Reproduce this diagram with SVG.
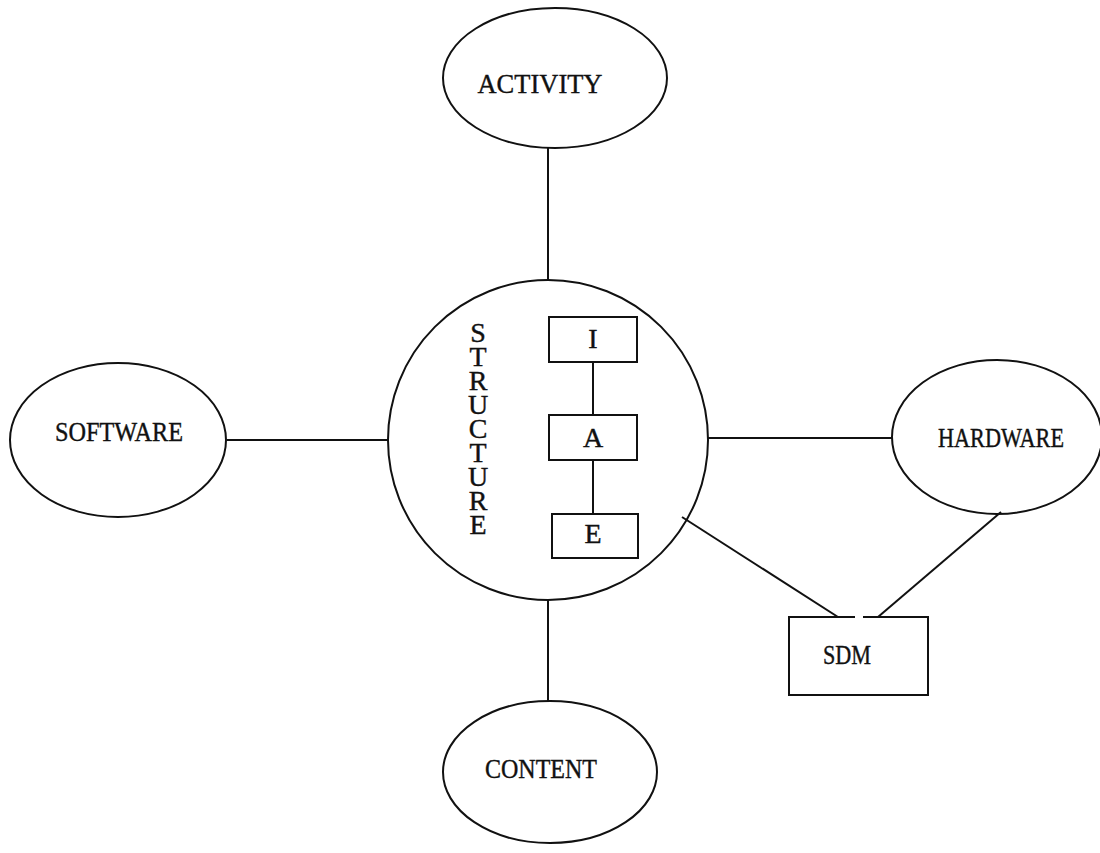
<svg xmlns="http://www.w3.org/2000/svg" width="1100" height="853" viewBox="0 0 1100 853">
  <style>
    .shape { fill: none; stroke: #111; stroke-width: 2; }
    .link { stroke: #111; stroke-width: 2; fill: none; }
    .label { font-family: "Liberation Serif", "Times New Roman", serif; font-size: 28px; fill: #111; stroke: #111; stroke-width: 0.4; text-anchor: middle; }
    .vertical { writing-mode: vertical-rl; text-orientation: upright; letter-spacing: -7px; text-anchor: start; }
  </style>
  <rect width="1100" height="853" fill="#fff"/>

  <!-- connectors -->
  <g id="connectors">
    <line class="link" x1="548" y1="148" x2="548" y2="280"/>
    <line class="link" x1="227" y1="440" x2="388" y2="440"/>
    <line class="link" x1="708" y1="438" x2="892" y2="438"/>
    <line class="link" x1="548" y1="600" x2="548" y2="701"/>
    <line class="link" x1="682" y1="517" x2="838" y2="617"/>
    <line class="link" x1="1001" y1="512" x2="878" y2="617"/>
    <line class="link" x1="593" y1="362" x2="593" y2="415"/>
    <line class="link" x1="593" y1="460" x2="593" y2="514"/>
  </g>

  <g id="activity">
    <ellipse class="shape" cx="555" cy="78" rx="112" ry="70"/>
    <text class="label" x="540" y="93" textLength="125" lengthAdjust="spacingAndGlyphs">ACTIVITY</text>
  </g>

  <g id="software">
    <ellipse class="shape" cx="118" cy="440" rx="108" ry="77"/>
    <text class="label" x="119" y="441" textLength="128" lengthAdjust="spacingAndGlyphs">SOFTWARE</text>
  </g>

  <g id="hardware">
    <ellipse class="shape" cx="997" cy="437" rx="105" ry="77"/>
    <text class="label" x="1001" y="447" textLength="126" lengthAdjust="spacingAndGlyphs">HARDWARE</text>
  </g>

  <g id="content">
    <ellipse class="shape" cx="550" cy="772" rx="107" ry="71"/>
    <text class="label" x="541" y="778" textLength="112" lengthAdjust="spacingAndGlyphs">CONTENT</text>
  </g>

  <g id="structure">
    <circle class="shape" cx="548" cy="440" r="160"/>
    <text class="label vertical" x="478" y="317">STRUCTURE</text>
  </g>

  <g id="box-i">
    <rect class="shape" x="549" y="317" width="88" height="45"/>
    <text class="label" x="593" y="348">I</text>
  </g>

  <g id="box-a">
    <rect class="shape" x="549" y="415" width="88" height="45"/>
    <text class="label" x="593" y="447">A</text>
  </g>

  <g id="box-e">
    <rect class="shape" x="552" y="514" width="86" height="44"/>
    <text class="label" x="593" y="543">E</text>
  </g>

  <g id="sdm">
    <path class="shape" d="M855 617 H789 V695 H928 V617 H863"/>
    <text class="label" x="847" y="664" textLength="48" lengthAdjust="spacingAndGlyphs">SDM</text>
  </g>
</svg>
